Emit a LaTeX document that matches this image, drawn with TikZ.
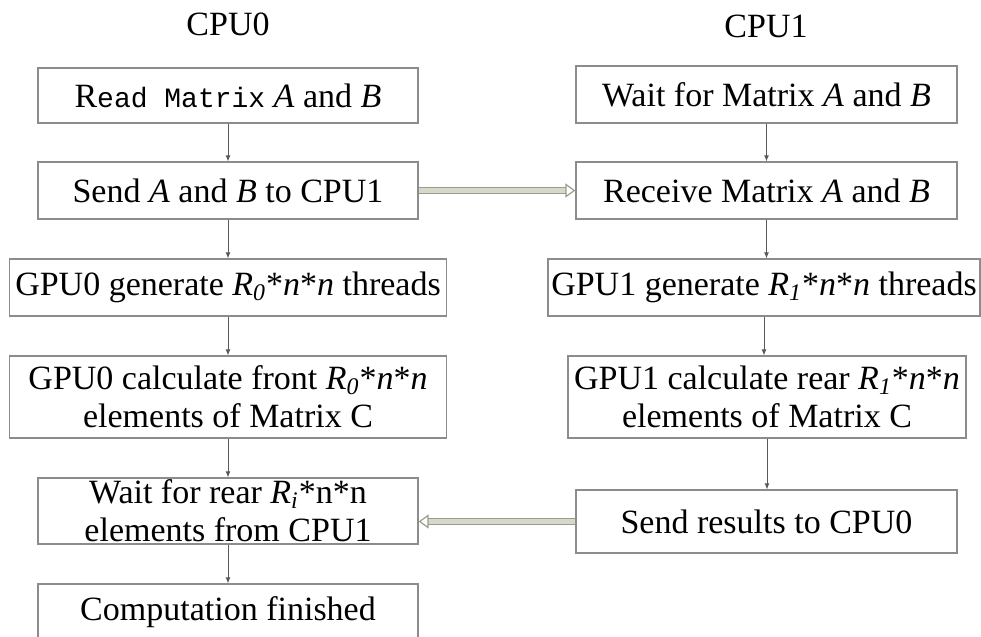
\documentclass[tikz,border=0pt]{standalone}
\usepackage{fontspec}
\setmainfont{Liberation Serif}
\setmonofont{Liberation Mono}
\usetikzlibrary{arrows.meta}

\definecolor{boxgray}{HTML}{8C8C8C}
\definecolor{passedge}{HTML}{9C9C8E}
\definecolor{passfill}{HTML}{D8D8CA}

\tikzset{
  box/.style={draw=boxgray, line width=0.6pt, inner sep=0pt, align=center,
    font=\fontsize{17}{19}\selectfont},
  head/.style={font=\fontsize{17}{19}\selectfont},
  flow/.style={draw=black!65, line width=0.4pt, -{Latex[length=3pt,width=2.4pt]}},
  pass/.style={draw=passedge, double=passfill, double distance=2.2pt, line width=0.6pt,
    -{Triangle[open,length=5pt,width=7pt]}}
}

\begin{document}
\begin{tikzpicture}[x=0.5pt, y=-0.5pt]
\useasboundingbox (0,0) rectangle (981,637);

\node[head] (cpua) at (228,24) {CPU0};
\node[head] (cpub) at (766,26) {CPU1};

% CPU0 column
\node[box, minimum width=190pt, minimum height=27.5pt] (la) at (228,95.5)
  {R{\ttfamily\fontsize{14}{19}\selectfont ead Matrix} \textit{A} and \textit{B}};
\node[box, minimum width=190pt, minimum height=28.5pt] (lb) at (228,190.5)
  {Send \textit{A} and \textit{B} to CPU1};
\node[box, minimum width=218.5pt, minimum height=28.5pt] (lc) at (228,287.5)
  {GPU0 generate \textit{R\textsubscript{0}}*\textit{n}*\textit{n} threads};
\node[box, minimum width=218.5pt, minimum height=41pt] (ld) at (228,397)
  {GPU0 calculate front \textit{R\textsubscript{0}}*\textit{n}*\textit{n}\\ elements of Matrix C};
\node[box, minimum width=190pt, minimum height=33pt] (le) at (228,511)
  {Wait for rear \textit{R\textsubscript{i}}*n*n\\ elements from CPU1};
\node[box, minimum width=190pt, minimum height=28.5pt] (lf) at (228,612.5)
  {Computation finished};

% CPU1 column
\node[box, minimum width=190.5pt, minimum height=28.5pt] (ra) at (766.5,94.5)
  {Wait for Matrix \textit{A} and \textit{B}};
\node[box, minimum width=190.5pt, minimum height=28.5pt] (rb) at (766.5,190.5)
  {Receive Matrix \textit{A} and \textit{B}};
\node[box, minimum width=216pt, minimum height=28.5pt] (rc) at (764,287.5)
  {GPU1 generate \textit{R\textsubscript{1}}*\textit{n}*\textit{n} threads};
\node[box, minimum width=199pt, minimum height=41pt] (rd) at (767,397)
  {GPU1 calculate rear \textit{R\textsubscript{1}}*\textit{n}*\textit{n}\\ elements of Matrix C};
\node[box, minimum width=190.5pt, minimum height=31.5pt] (re) at (766.5,521.5)
  {Send results to CPU0};

\foreach \a/\b in {la/lb, lb/lc, lc/ld, ld/le, le/lf, ra/rb, rb/rc, rc/rd, rd/re}
{
  \draw[flow] (\a.south) -- (\a.south |- \b.north);
}

\coordinate (back) at (le.east |- re.west);
\draw[pass] (lb.east) -- (rb.west);
\draw[pass] (re.west) -- (back);
\end{tikzpicture}
\end{document}
